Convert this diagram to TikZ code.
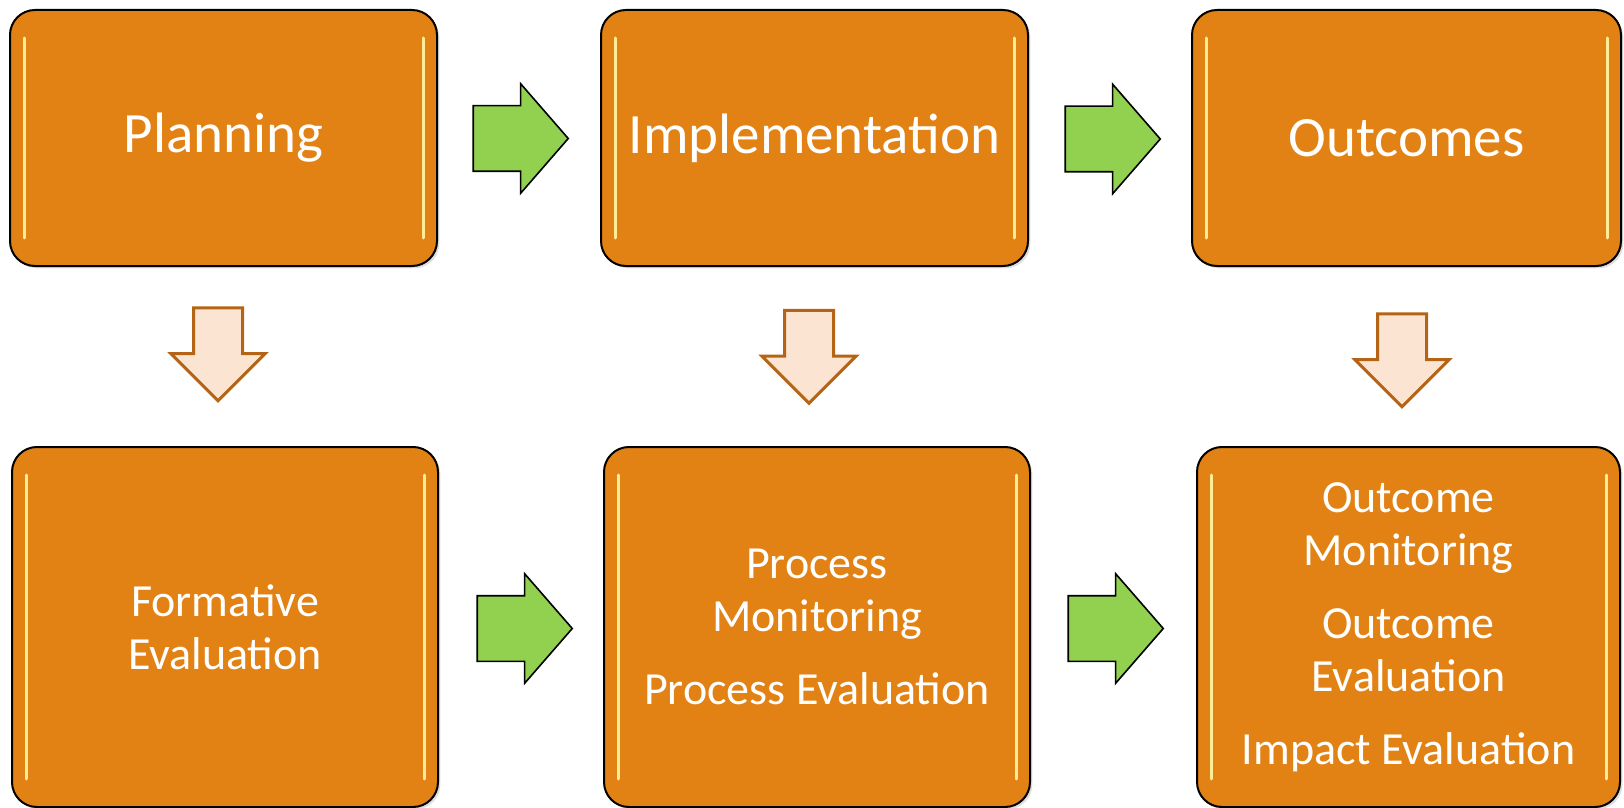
\documentclass[tikz,border=0pt]{standalone}
\usepackage{fontspec}
\setmainfont{Carlito}
\usetikzlibrary{shapes.arrows,shadows}
\definecolor{boxorange}{RGB}{227,130,20}
\definecolor{glint}{RGB}{255,236,150}
\definecolor{arrgreen}{RGB}{146,208,80}
\definecolor{peach}{RGB}{251,229,210}
\definecolor{peachline}{RGB}{180,100,20}
\tikzset{
  stage/.style={draw=black, line width=1pt, fill=boxorange, rounded corners=12.5pt,
    text=white, align=center, font=\fontsize{28.5}{34}\selectfont,
    drop shadow={opacity=0.25, shadow xshift=1.2pt, shadow yshift=-1.2pt},
    path picture={
      \draw[glint, line width=1.5pt, line cap=round]
        ([xshift=7pt,yshift=-14pt]path picture bounding box.north west) --
        ([xshift=7pt,yshift=14pt]path picture bounding box.south west);
      \draw[glint, line width=1.5pt, line cap=round]
        ([xshift=-7pt,yshift=-14pt]path picture bounding box.north east) --
        ([xshift=-7pt,yshift=14pt]path picture bounding box.south east);
    }},
  toprow/.style={stage, minimum width=213.5pt, minimum height=128pt},
  botrow/.style={stage, minimum width=213pt, minimum height=180pt,
    font=\fontsize{23}{26.5}\selectfont},
  nextarrow/.style={single arrow, draw=black, line width=0.8pt, fill=arrgreen,
    inner xsep=0pt, inner ysep=16pt, minimum height=47.5pt,
    single arrow head extend=11pt, single arrow tip angle=98},
  evalarrow/.style={single arrow, draw=peachline, line width=1.5pt, fill=peach,
    inner xsep=11.5pt, inner ysep=0pt, minimum height=46.5pt,
    single arrow head extend=11.25pt, shape border rotate=270}
}
\begin{document}
\begin{tikzpicture}[x=0.5pt,y=-0.5pt]
\useasboundingbox (0,0) rectangle (1624,808);
% top row
\node[toprow] (plan) at (223.5,138) {Planning};
\node[toprow] (impl) at (814.5,138) {Implementation};
\node[toprow, minimum width=214.5pt] (outc) at (1406.5,138) {Outcomes};
% bottom row
\node[botrow] (form) at (225,627) {Formative\\Evaluation};
\node[botrow] (proc) at (817,627) {Process\\Monitoring\\[10pt]Process Evaluation};
\node[botrow, minimum width=211.5pt] (outev) at (1408.5,627)
  {Outcome\\Monitoring\\[10pt]Outcome\\Evaluation\\[10pt]Impact Evaluation};
% arrows between stages
\node[nextarrow] (plan2impl) at (506.5,138.5) {};
\node[nextarrow] (impl2outc) at (1098.5,139) {};
\node[nextarrow] (form2proc) at (510.5,628.5) {};
\node[nextarrow] (proc2outev) at (1101.5,628.5) {};
% arrows down to evaluation
\node[evalarrow] (plan2form) at (218,342) {};
\node[evalarrow] (impl2proc) at (809,344.5) {};
\node[evalarrow] (outc2outev) at (1402,348) {};
\end{tikzpicture}
\end{document}
